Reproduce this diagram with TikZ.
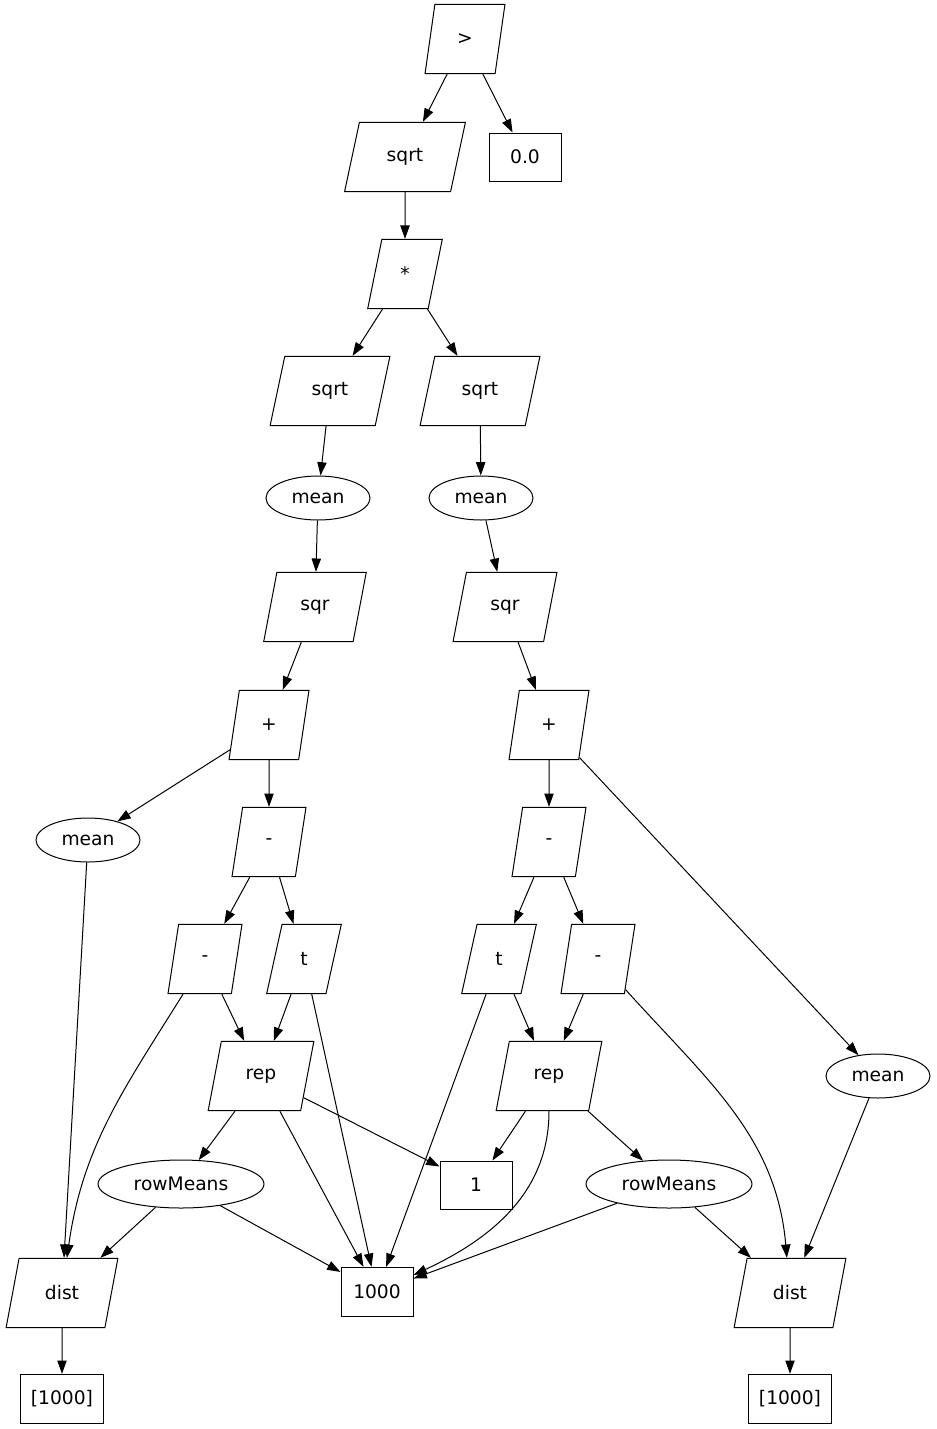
\documentclass[tikz,border=0pt]{standalone}
\usepackage{fontspec}
\setmainfont{DejaVu Sans}
\usetikzlibrary{shapes.geometric,arrows.meta}

\tikzset{
  op/.style={draw, trapezium, trapezium left angle=77.5, trapezium right angle=102.5,
    trapezium stretches=true, minimum height=52pt, inner sep=1pt},
  fn/.style={draw, trapezium, trapezium left angle=72, trapezium right angle=108,
    trapezium stretches=true, minimum height=52pt, inner sep=1pt},
  ov/.style={draw, ellipse, minimum width=78pt, minimum height=33pt, inner sep=0pt},
  val/.style={draw, rectangle, minimum width=54pt, minimum height=36pt, inner sep=1pt},
  edge/.style={-{Triangle[length=10pt,width=7pt]}}
}

\begin{document}
\begin{tikzpicture}[x=0.75pt, y=-0.75pt, line width=0.75pt,
    every node/.style={font=\fontsize{14}{17}\selectfont}]

        \useasboundingbox (0,0) rectangle (936,1429);

        % top

        \node[op, minimum width=60pt] (gt) at (465,39) {>};
        \node[fn, minimum width=90.75pt] (sqrtA) at (405,157) {sqrt};
        \node[val] (zero) at (525,157) {0.0};
        \node[op, minimum width=56pt] (times) at (405,274) {*};

        % left branch

        \node[fn, minimum width=90pt] (sqrtL) at (330,391) {sqrt};
        \node[ov] (meanL) at (318,498) {mean};
        \node[fn, minimum width=77pt] (sqrL) at (315,607) {sqr};
        \node[op, minimum width=60pt] (plusL) at (269,725) {+};
        \node[ov] (meanLL) at (88,840) {mean};
        \node[op, minimum width=55.5pt] (minusL) at (269,842) {-};
        \node[op, minimum width=55.5pt] (minusLL) at (205,959) {-};
        \node[op, minimum width=56pt] (tL) at (304,959) {t};
        \node[fn, minimum width=79.5pt] (repL) at (261,1076) {rep};
        \node[ov, minimum width=124.5pt, minimum height=36pt] (rowL) at (181,1184) {rowMeans};
        \node[fn, minimum width=84pt] (distL) at (62,1293) {dist};
        \node[val, minimum width=62pt, minimum height=37pt] (vecL) at (62,1399) {[1000]};

        % right branch

        \node[fn, minimum width=90pt] (sqrtR) at (480,391) {sqrt};
        \node[ov] (meanR) at (481,498) {mean};
        \node[fn, minimum width=78pt] (sqrR) at (505,607) {sqr};
        \node[op, minimum width=60pt] (plusR) at (549,725) {+};
        \node[op, minimum width=55.5pt] (minusR) at (549,842) {-};
        \node[op, minimum width=56pt] (tR) at (499,959) {t};
        \node[op, minimum width=55.5pt] (minusRR) at (598,959) {-};
        \node[fn, minimum width=79.5pt] (repR) at (549,1076) {rep};
        \node[ov] (meanRR) at (878,1076) {mean};
        \node[ov, minimum width=124.5pt, minimum height=36pt] (rowR) at (669,1184) {rowMeans};
        \node[fn, minimum width=84pt] (distR) at (790,1293) {dist};
        \node[val, minimum width=62pt, minimum height=37pt] (vecR) at (790,1399) {[1000]};

        % shared

        \node[val] (one) at (476,1185) {1};
        \node[val, minimum height=37pt] (thousand) at (377,1292) {1000};

        % edges

        \draw[edge] (gt) -- (sqrtA);
        \draw[edge] (gt) -- (zero);
        \draw[edge] (sqrtA) -- (times);
        \draw[edge] (times) -- (sqrtL);
        \draw[edge] (times) -- (sqrtR);

        \draw[edge] (sqrtL) -- (meanL);
        \draw[edge] (meanL) -- (sqrL);
        \draw[edge] (sqrL) -- (plusL);
        \draw[edge] (plusL) -- (meanLL);
        \draw[edge] (plusL) -- (minusL);
        \draw[edge] (minusL) -- (minusLL);
        \draw[edge] (minusL) -- (tL);
        \draw[edge] (minusLL) -- (repL);
        \draw[edge] (minusLL) to[out=-122, in=82] (distL);
        \draw[edge] (tL) -- (repL);
        \draw[edge] (tL) -- (thousand);
        \draw[edge] (meanLL) -- (distL);
        \draw[edge] (repL) -- (rowL);
        \draw[edge] (repL) -- (one);
        \draw[edge] (repL) -- (thousand);
        \draw[edge] (rowL) -- (distL);
        \draw[edge] (rowL) -- (thousand);
        \draw[edge] (distL) -- (vecL);

        \draw[edge] (sqrtR) -- (meanR);
        \draw[edge] (meanR) -- (sqrR);
        \draw[edge] (sqrR) -- (plusR);
        \draw[edge] (plusR) -- (minusR);
        \draw[edge] (plusR) -- (meanRR);
        \draw[edge] (minusR) -- (tR);
        \draw[edge] (minusR) -- (minusRR);
        \draw[edge] (tR) -- (repR);
        \draw[edge] (tR) -- (thousand);
        \draw[edge] (minusRR) -- (repR);
        \draw[edge] (minusRR) to[out=-48, in=95] (distR);
        \draw[edge] (repR) -- (one);
        \draw[edge] (repR) -- (rowR);
        \draw[edge] (repR.-90) to[out=-90, in=25] (thousand);
        \draw[edge] (rowR) -- (thousand);
        \draw[edge] (rowR) -- (distR);
        \draw[edge] (meanRR) -- (distR);
        \draw[edge] (distR) -- (vecR);

    \end{tikzpicture}
\end{document}
